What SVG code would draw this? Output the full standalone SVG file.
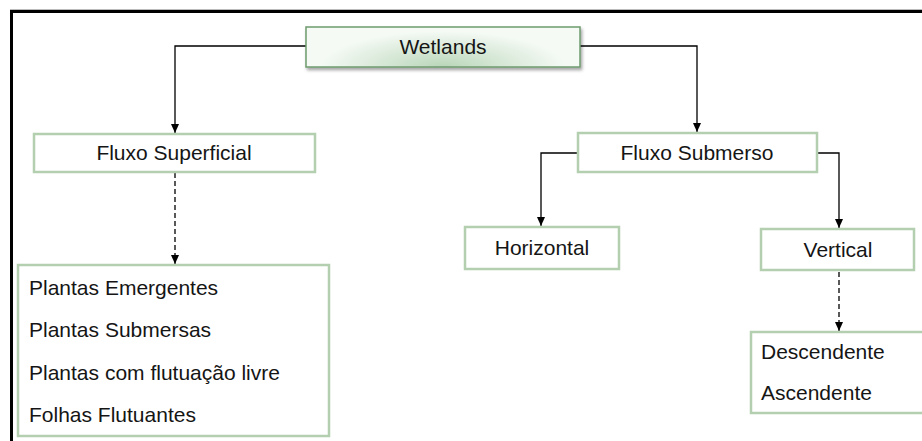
<svg xmlns="http://www.w3.org/2000/svg" width="922" height="441" viewBox="0 0 922 441">
<style>
text{font-family:"Liberation Sans",Arial,sans-serif;font-size:21px;fill:#151515}
.box{fill:#fff;stroke:#b3cfb0;stroke-width:2.5}
.c{text-anchor:middle}
.ln{fill:none;stroke:#000;stroke-width:1.3}
.dash{stroke-dasharray:5 3}
</style>
<defs>
<marker id="ah" markerWidth="10" markerHeight="8" refX="9" refY="4" orient="auto" markerUnits="userSpaceOnUse">
<path d="M0,0 L9,4 L0,8 Z" fill="#000"/>
</marker>
<radialGradient id="wg" cx="0.5" cy="1" r="0.9" gradientTransform="translate(0.5 1) scale(0.5 1) translate(-0.5 -1)">
<stop offset="0" stop-color="#b9d6b9"/>
<stop offset="1" stop-color="#f5faf5"/>
</radialGradient>
<filter id="sh" x="-5%" y="-20%" width="115%" height="150%">
<feDropShadow dx="1.5" dy="2.5" stdDeviation="1.5" flood-color="#000" flood-opacity="0.35"/>
</filter>
</defs>
<rect x="0" y="0" width="922" height="441" fill="#fff"/>
<line x1="10" y1="9.5" x2="922" y2="9.5" stroke="#bbb" stroke-width="1"/>
<rect x="11.5" y="11.5" width="915" height="435" fill="none" stroke="#000" stroke-width="3"/>
<g id="connectors">
<path class="ln" d="M306,46 H175 V133" marker-end="url(#ah)"/>
<path class="ln" d="M580,46 H697 V132" marker-end="url(#ah)"/>
<path class="ln dash" d="M175,173 V264" marker-end="url(#ah)"/>
<path class="ln" d="M578,153 H541 V226" marker-end="url(#ah)"/>
<path class="ln" d="M817,153 H839 V228" marker-end="url(#ah)"/>
<path class="ln dash" d="M839,272 V331" marker-end="url(#ah)"/>
</g>
<g id="wetlands">
<rect x="306" y="27" width="274" height="40" fill="url(#wg)" stroke="#6e9a6e" stroke-width="1.5" filter="url(#sh)"/>
<text class="c" x="443" y="54">Wetlands</text>
</g>
<g id="fluxo-superficial">
<rect class="box" x="34" y="134" width="281" height="38"/>
<text class="c" x="174" y="160">Fluxo Superficial</text>
</g>
<g id="plantas">
<rect class="box" x="18" y="265" width="311" height="171"/>
<text x="29" y="295">Plantas Emergentes</text>
<text x="29" y="337">Plantas Submersas</text>
<text x="29" y="380">Plantas com flutuação livre</text>
<text x="29" y="422">Folhas Flutuantes</text>
</g>
<g id="fluxo-submerso">
<rect class="box" x="578" y="133" width="239" height="39"/>
<text class="c" x="697" y="160">Fluxo Submerso</text>
</g>
<g id="horizontal">
<rect class="box" x="465" y="227" width="154" height="42"/>
<text class="c" x="542" y="255">Horizontal</text>
</g>
<g id="vertical">
<rect class="box" x="761" y="229" width="153" height="41"/>
<text class="c" x="838" y="257">Vertical</text>
</g>
<g id="descendente">
<rect class="box" x="751" y="332" width="190" height="81"/>
<text x="761" y="359">Descendente</text>
<text x="761" y="400">Ascendente</text>
</g>
</svg>
